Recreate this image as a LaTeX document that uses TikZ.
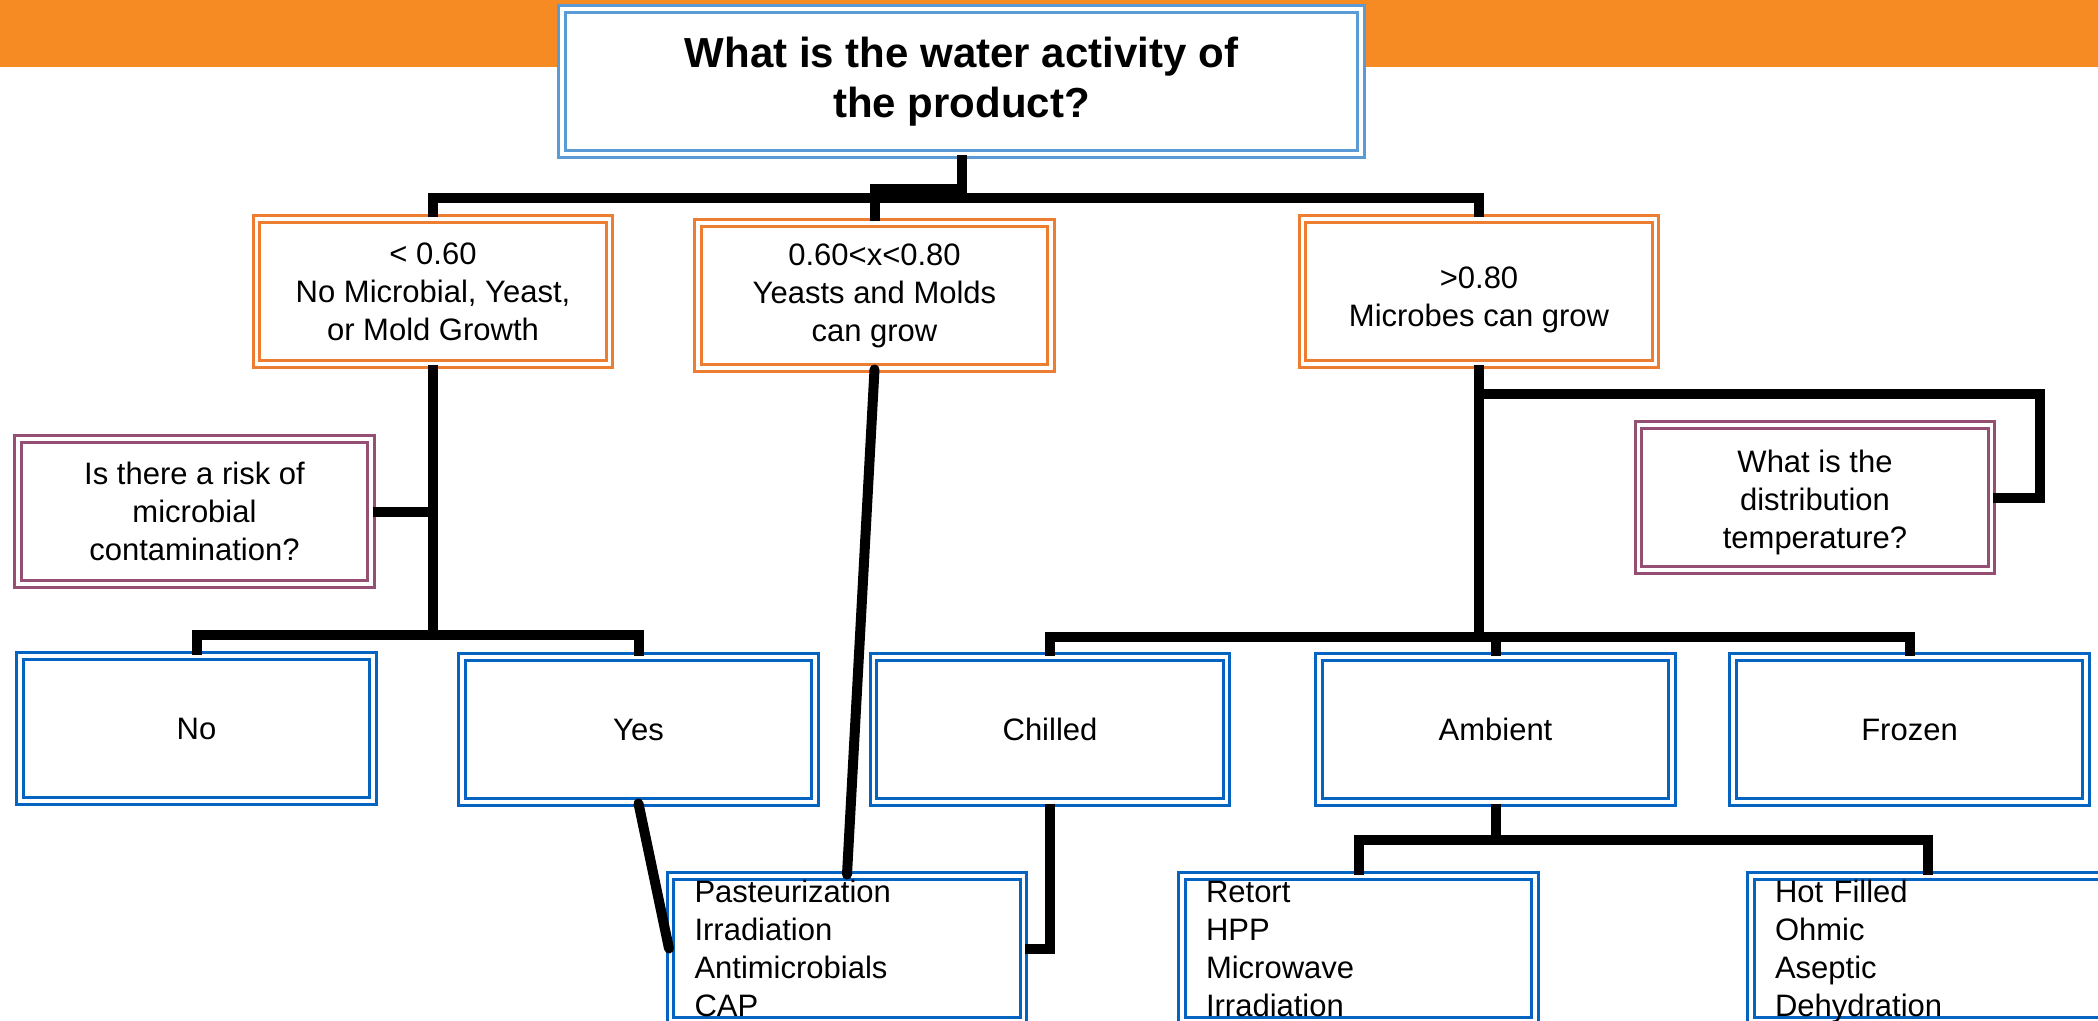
\documentclass[tikz,border=0pt]{standalone}
\usepackage{fontspec}
\setmainfont{Liberation Sans}
\definecolor{hdr}{HTML}{F68B24}
\definecolor{topblue}{HTML}{5B9BD5}
\definecolor{boxorange}{HTML}{ED7D31}
\definecolor{boxpurple}{HTML}{954F72}
\definecolor{boxblue}{HTML}{0563C1}
\newcommand{\tallstrut}[1]{\rule{0pt}{#1}}
\tikzset{
  box/.style={draw, double=white, line width=1.5pt, double distance=1.75pt, fill=white,
    minimum width=176.5pt, minimum height=72.5pt, inner sep=0pt, align=center,
    font=\fontsize{15.5}{19}\selectfont},
  orangebox/.style={box, draw=boxorange},
  purplebox/.style={box, draw=boxpurple},
  bluebox/.style={box, draw=boxblue},
  listbox/.style={box, draw=boxblue, align=left, inner xsep=12pt, text width=152.5pt},
  titlebox/.style={box, draw=topblue, minimum width=399.5pt, minimum height=72.5pt,
    font=\fontsize{21}{25}\selectfont\bfseries},
  conn/.style={line width=5pt},
  slant/.style={line width=5pt, line cap=round}
}
\begin{document}
\begin{tikzpicture}[x=0.5pt,y=-0.5pt]
\useasboundingbox (0,0) rectangle (2098,1021);
\clip (0,0) rectangle (2098,1021);
\fill[white] (0,0) rectangle (2098,1021);
\fill[hdr] (0,0) rectangle (2098,67);

% nodes
\node[titlebox] (q) at (961.5,81.5) {What is the water activity of\\the product?};
\node[orangebox] (lo) at (433,291.5) {< 0.60\\No Microbial, Yeast,\\or Mold Growth};
\node[orangebox] (mid) at (874.5,295.5) {0.60<x<0.80\\Yeasts and Molds\\can grow};
\node[orangebox] (hi) at (1479,291.5) {\tallstrut{19pt}>0.80\\Microbes can grow};
\node[purplebox] (risk) at (194.5,511.5) {Is there a risk of\\microbial\\contamination?};
\node[purplebox] (dist) at (1815,497.5) {\tallstrut{16pt}What is the\\distribution\\temperature?};
\node[bluebox] (no) at (196.5,728.5) {No};
\node[bluebox] (yes) at (638.5,729.5) {Yes};
\node[bluebox] (chilled) at (1050,729.5) {Chilled};
\node[bluebox] (ambient) at (1495.5,729.5) {Ambient};
\node[bluebox] (frozen) at (1909.5,729.5) {Frozen};
\node[listbox] (past) at (847,948.5) {Pasteurization\\Irradiation\\Antimicrobials\\CAP};
\node[listbox] (retort) at (1358.5,948.5) {Retort\\HPP\\Microwave\\Irradiation};
\node[listbox] (hot) at (1927.5,948.5) {Hot Filled\\Ohmic\\Aseptic\\\raisebox{0pt}[\height][0pt]{Dehydration}};

% helper coordinates
\coordinate (bus1) at (0,198);
\coordinate (blob) at (0,189);
\coordinate (bus2) at (0,635);
\coordinate (bus3) at (0,637);
\coordinate (bus4) at (0,839.5);
\coordinate (loop) at (2040,394.5);

% connectors
\draw[conn] (q.south) -- (q.south |- bus1);
\draw[conn] (lo.north) -- (lo.north |- bus1) -- (hi.north |- bus1) -- (hi.north);
\draw[conn] (q.south |- blob) -- (mid.north |- blob) -- (mid.north);

\draw[conn] (lo.south) -- (lo.south |- bus2);
\draw[conn] (risk.east) -- (risk.east -| lo.south);
\draw[conn] (no.north) -- (no.north |- bus2) -- (yes.north |- bus2) -- (yes.north);

\draw[slant] (mid.south) -- (past.north);
\draw[slant] (yes.south) -- (past.west);
\draw[conn] (chilled.south) |- (past.east);

\draw[conn] (hi.south) -- (hi.south |- bus3);
\draw[conn] (hi.south |- loop) -- (loop) -- (loop |- dist.east) -- (dist.east);
\draw[conn] (chilled.north) -- (chilled.north |- bus3) -- (frozen.north |- bus3) -- (frozen.north);
\draw[conn] (ambient.north) -- (ambient.north |- bus3);

\draw[conn] (ambient.south) -- (ambient.south |- bus4);
\draw[conn] (retort.north) -- (retort.north |- bus4) -- (hot.north |- bus4) -- (hot.north);
\end{tikzpicture}
\end{document}
